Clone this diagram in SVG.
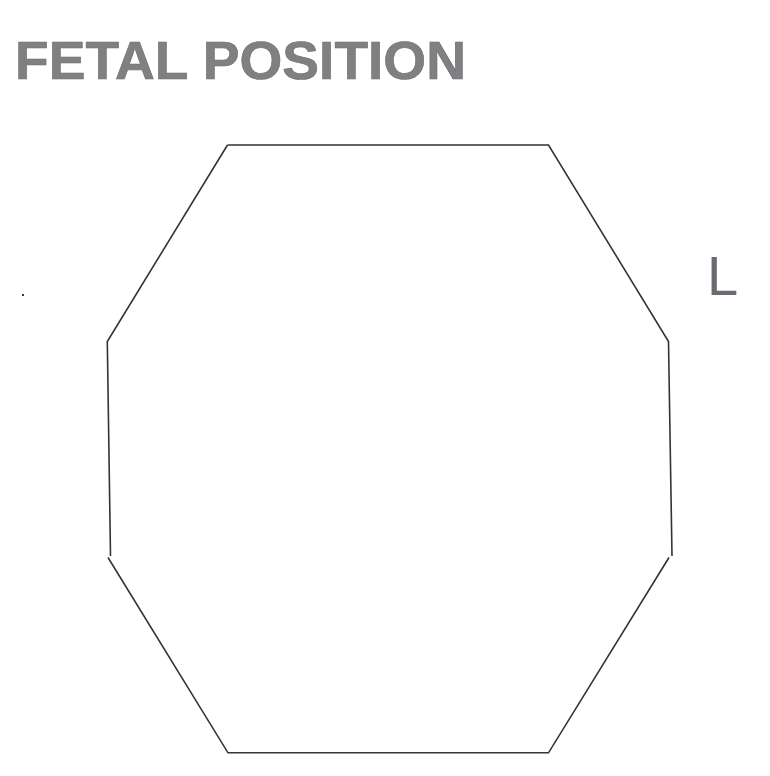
<svg xmlns="http://www.w3.org/2000/svg" width="770" height="776" viewBox="0 0 770 776">
<style>
.title{font-family:"Liberation Sans",Arial,sans-serif;font-weight:bold;font-size:54px;fill:#808082;stroke:#6d6d72;stroke-width:0.6}
.lbl{font-family:"Liberation Sans",Arial,sans-serif;font-size:56px;fill:#6a6a72}
.edge{fill:none;stroke:#333338;stroke-width:1.6;stroke-linejoin:miter}
</style>
<rect width="770" height="776" fill="#ffffff"/>
<g id="title"><text class="title" x="15" y="79" textLength="451" lengthAdjust="spacingAndGlyphs">FETAL POSITION</text></g>
<g id="label-L"><text class="lbl" x="707" y="295">L</text></g>
<g id="dot"><rect x="22" y="294" width="2" height="2" fill="#33336a"/></g>
<g id="octagon">
<path class="edge" d="M227.5,145 L548.5,145 L668.5,341.5 L672,556"/>
<path class="edge" d="M669,557.5 L548.5,752.8 L228,752.8 L108,557.5"/>
<path class="edge" d="M110.5,556 L107.3,341.5 L227.5,145"/>
</g>
</svg>
